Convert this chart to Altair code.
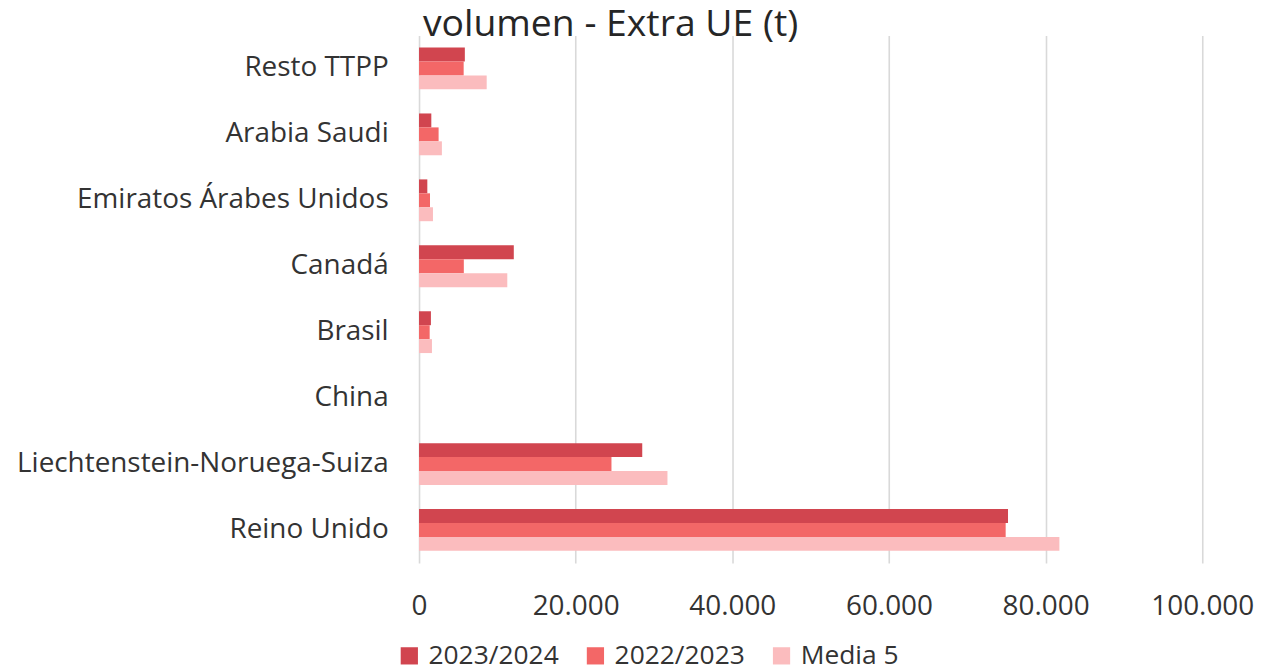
import altair as alt
import pandas as pd

categories = ["Resto TTPP", "Arabia Saudi", "Emiratos Árabes Unidos", "Canadá",
              "Brasil", "China", "Liechtenstein-Noruega-Suiza", "Reino Unido"]
series = ["2023/2024", "2022/2023", "Media 5"]
v_2023_2024 = [5850, 1570, 1060, 12100, 1520, 0, 28500, 75200]
v_2022_2023 = [5700, 2500, 1400, 5720, 1360, 0, 24570, 74900]
v_media5 = [8640, 2920, 1780, 11270, 1650, 0, 31720, 81760]
colors = ["#D1454F", "#F36767", "#FBBCBE"]

rows = []
for s, vals in zip(series, [v_2023_2024, v_2022_2023, v_media5]):
    for c, v in zip(categories, vals):
        rows.append({"pais": c, "serie": s, "valor": v})
df = pd.DataFrame(rows)

FONT = "Open Sans"
TXT = "#333333"

chart = alt.Chart(df).mark_bar().encode(
    y=alt.Y("pais:N", sort=categories,
            scale=alt.Scale(paddingInner=0.366, paddingOuter=0.183),
            axis=alt.Axis(title=None, ticks=False, domain=False, grid=False,
                          labelFontSize=28, labelFont=FONT, labelColor=TXT,
                          labelPadding=31, labelLimit=600)),
    yOffset=alt.YOffset("serie:N", sort=series),
    x=alt.X("valor:Q", scale=alt.Scale(domain=[0, 100000], nice=False),
            axis=alt.Axis(title=None, values=[0, 20000, 40000, 60000, 80000, 100000],
                          ticks=False, domain=False, grid=True,
                          gridColor="#D9D9D9", gridWidth=1.6,
                          labelFontSize=28, labelFont=FONT, labelColor=TXT,
                          labelPadding=30, labelFlush=False,
                          labelExpr="replace(format(datum.value, ','), ',', '.')")),
    color=alt.Color("serie:N", sort=series,
                    scale=alt.Scale(domain=series, range=colors),
                    legend=alt.Legend(title=None, orient="none", direction="horizontal",
                                      legendX=-23, legendY=610,
                                      symbolType="square", symbolSize=300,
                                      symbolStrokeWidth=0, labelOffset=6,
                                      columnPadding=23, padding=0,
                                      labelFontSize=26.5, labelFont=FONT,
                                      labelColor=TXT)),
).properties(
    width=787,
    height=530,
    title=alt.TitleParams("volumen - Extra UE (t)", fontSize=37.5, font=FONT,
                          fontWeight="normal", color="#262626",
                          anchor="middle", dx=-201, offset=-38,
                          baseline="alphabetic"),
    autosize=alt.AutoSizeParams(type="none"),
    padding={"left": 413, "top": 26, "right": 53, "bottom": 108},
).configure_view(stroke=None)

chart.save("out.html", embed_options={"renderer": "svg", "actions": False})
